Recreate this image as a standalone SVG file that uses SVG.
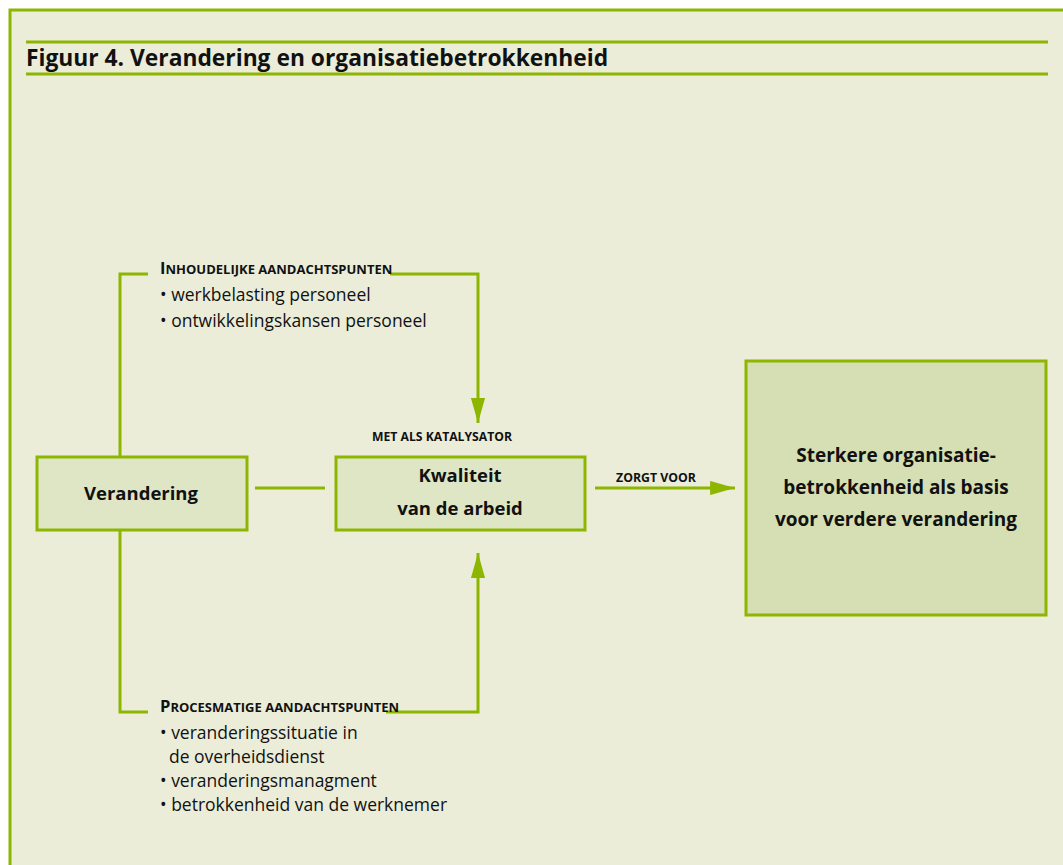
<svg xmlns="http://www.w3.org/2000/svg" width="1063" height="865" viewBox="0 0 1063 865">
<style>
.t{font-family:"Open Sans","Noto Sans","Liberation Sans",sans-serif;fill:#111}
.b{font-weight:bold}
.ln{stroke:#8db600;stroke-width:3;fill:none}
.box{stroke:#8db600;stroke-width:3}
</style>
<defs>
<marker id="ah" viewBox="0 0 10 10" refX="10" refY="5" markerWidth="8.3" markerHeight="4.7" markerUnits="strokeWidth" orient="auto" preserveAspectRatio="none">
<path d="M0,0 L10,5 L0,10 z" fill="#8db600"/>
</marker>
</defs>
<rect x="0" y="0" width="1063" height="865" fill="#ffffff"/>
<rect x="10" y="10" width="1070" height="880" fill="#ebedd9" stroke="#8db600" stroke-width="3"/>
<g id="title">
<line class="ln" x1="26" y1="42" x2="1048" y2="42"/>
<line class="ln" x1="26" y1="74" x2="1048" y2="74"/>
<text class="t b" x="26" y="66" font-size="22.8">Figuur 4. Verandering en organisatiebetrokkenheid</text>
</g>
<g id="connectors">
<polyline class="ln" points="148,274 120,274 120,457"/>
<polyline class="ln" points="390,274 478,274 478,423" marker-end="url(#ah)"/>
<polyline class="ln" points="148,712 120,712 120,530"/>
<polyline class="ln" points="386,712 478,712 478,553" marker-end="url(#ah)"/>
<line class="ln" x1="255" y1="488" x2="325" y2="488"/>
<line class="ln" x1="595" y1="488" x2="735" y2="488" marker-end="url(#ah)"/>
<text class="t b" x="656" y="482" font-size="12.3" text-anchor="middle">ZORGT VOOR</text>
<text class="t b" x="442" y="441" font-size="12.2" text-anchor="middle">MET ALS KATALYSATOR</text>
</g>
<g id="inhoud">
<text class="t b" x="160" y="274" font-size="13"><tspan font-size="16.5">I</tspan>NHOUDELIJKE AANDACHTSPUNTEN</text>
<text class="t" x="160" y="301" font-size="17.5">• werkbelasting personeel</text>
<text class="t" x="160" y="327" font-size="17.5">• ontwikkelingskansen personeel</text>
</g>
<g id="proces">
<text class="t b" x="160" y="712" font-size="13"><tspan font-size="16.5">P</tspan>ROCESMATIGE AANDACHTSPUNTEN</text>
<text class="t" x="160" y="739" font-size="17.5">• veranderingssituatie in</text>
<text class="t" x="169" y="763" font-size="17.5">de overheidsdienst</text>
<text class="t" x="160" y="787" font-size="17.5">• veranderingsmanagment</text>
<text class="t" x="160" y="811" font-size="17.5">• betrokkenheid van de werknemer</text>
</g>
<g id="verandering">
<rect class="box" x="37" y="457" width="210" height="73" fill="#dfe6c6"/>
<text class="t b" x="141" y="500" font-size="18.5" text-anchor="middle">Verandering</text>
</g>
<g id="kwaliteit">
<rect class="box" x="336" y="457" width="249" height="73" fill="#dfe6c6"/>
<text class="t b" x="460" y="482" font-size="18.5" text-anchor="middle">Kwaliteit</text>
<text class="t b" x="460" y="515" font-size="18.5" text-anchor="middle">van de arbeid</text>
</g>
<g id="sterkere">
<rect class="box" x="746" y="361" width="300" height="254" fill="#d6dfb3"/>
<text class="t b" x="896" y="462" font-size="19" text-anchor="middle">Sterkere organisatie-</text>
<text class="t b" x="896" y="494" font-size="19" text-anchor="middle">betrokkenheid als basis</text>
<text class="t b" x="896" y="526" font-size="19" text-anchor="middle">voor verdere verandering</text>
</g>
</svg>
